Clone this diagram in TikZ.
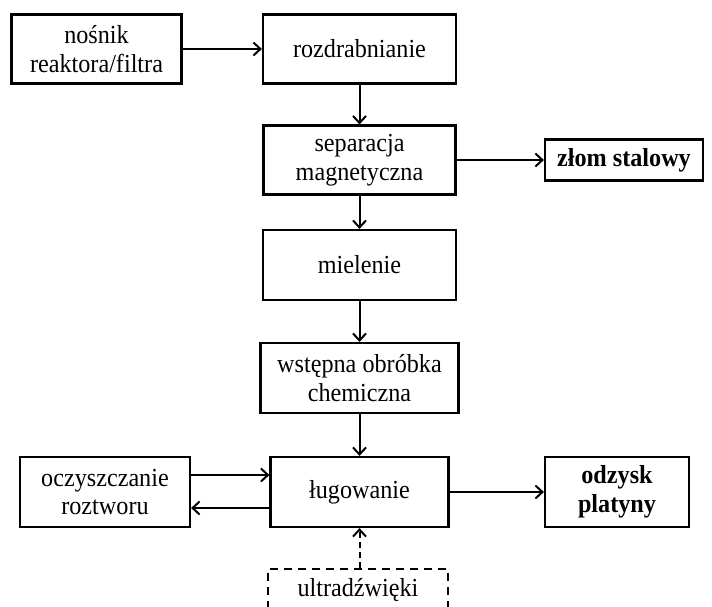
\documentclass[tikz,border=0pt]{standalone}
\usepackage{fontspec}
\setmainfont[FakeStretch=0.93]{Liberation Serif}
\usetikzlibrary{arrows.meta}
\begin{document}
\begin{tikzpicture}[x=1pt,y=-1pt,
  box/.style={draw, line width=2.2pt, rectangle, inner sep=0pt, align=center,
    font=\fontsize{26}{28.5}\selectfont},
  conn/.style={line width=2pt, -{Straight Barb[length=7pt,width=13pt,line width=2pt]}},
  dashbox/.style={box, dash pattern=on 8pt off 6pt}
]
\clip (0,0) rectangle (712,606);
\fill[white] (0,0) rectangle (712,606);
\node[box, minimum width=170pt, minimum height=69pt] (nosnik) at (96.5,49) {nośnik\\reaktora/filtra};
\node[box, minimum width=193pt, minimum height=69pt] (rozdr) at (359.5,49) {rozdrabnianie};
\node[box, minimum width=192pt, minimum height=69pt] (separ) at (359.5,160) {separacja\\magnetyczna};
\node[box, minimum width=158pt, minimum height=41pt] (zlom) at (624,160) {\textbf{złom stalowy}};
\node[box, minimum width=193pt, minimum height=70pt] (miel) at (359.5,265) {mielenie};
\node[box, minimum width=198pt, minimum height=70pt] (wstep) at (359.5,378) {wstępna obróbka\\chemiczna};
\node[box, minimum width=170pt, minimum height=70pt] (oczysz) at (105,492) {oczyszczanie\\roztworu};
\node[box, minimum width=178pt, minimum height=70pt] (lug) at (359.5,492) {ługowanie};
\node[box, minimum width=144pt, minimum height=70pt] (odzysk) at (617,492) {\textbf{odzysk}\\\textbf{platyny}};
\node[dashbox, minimum width=180pt, minimum height=42pt, anchor=north] (ultra) at (358,568) {ultradźwięki};

\draw[conn] (nosnik) -- (rozdr);
\draw[conn] (rozdr) -- (separ);
\draw[conn] (separ) -- (zlom);
\draw[conn] (separ) -- (miel);
\draw[conn] (miel) -- (wstep);
\draw[conn] (wstep) -- (lug);
\draw[conn] ([yshift=17pt]oczysz.east) -- ([yshift=17pt]oczysz.east -| lug.west);
\draw[conn] ([yshift=-16pt]lug.west) -- ([yshift=-16pt]lug.west -| oczysz.east);
\draw[conn] (lug) -- (odzysk);
\draw[conn, dash pattern=on 6pt off 4pt] (ultra.north -| lug.south) -- (lug.south);
\end{tikzpicture}
\end{document}
